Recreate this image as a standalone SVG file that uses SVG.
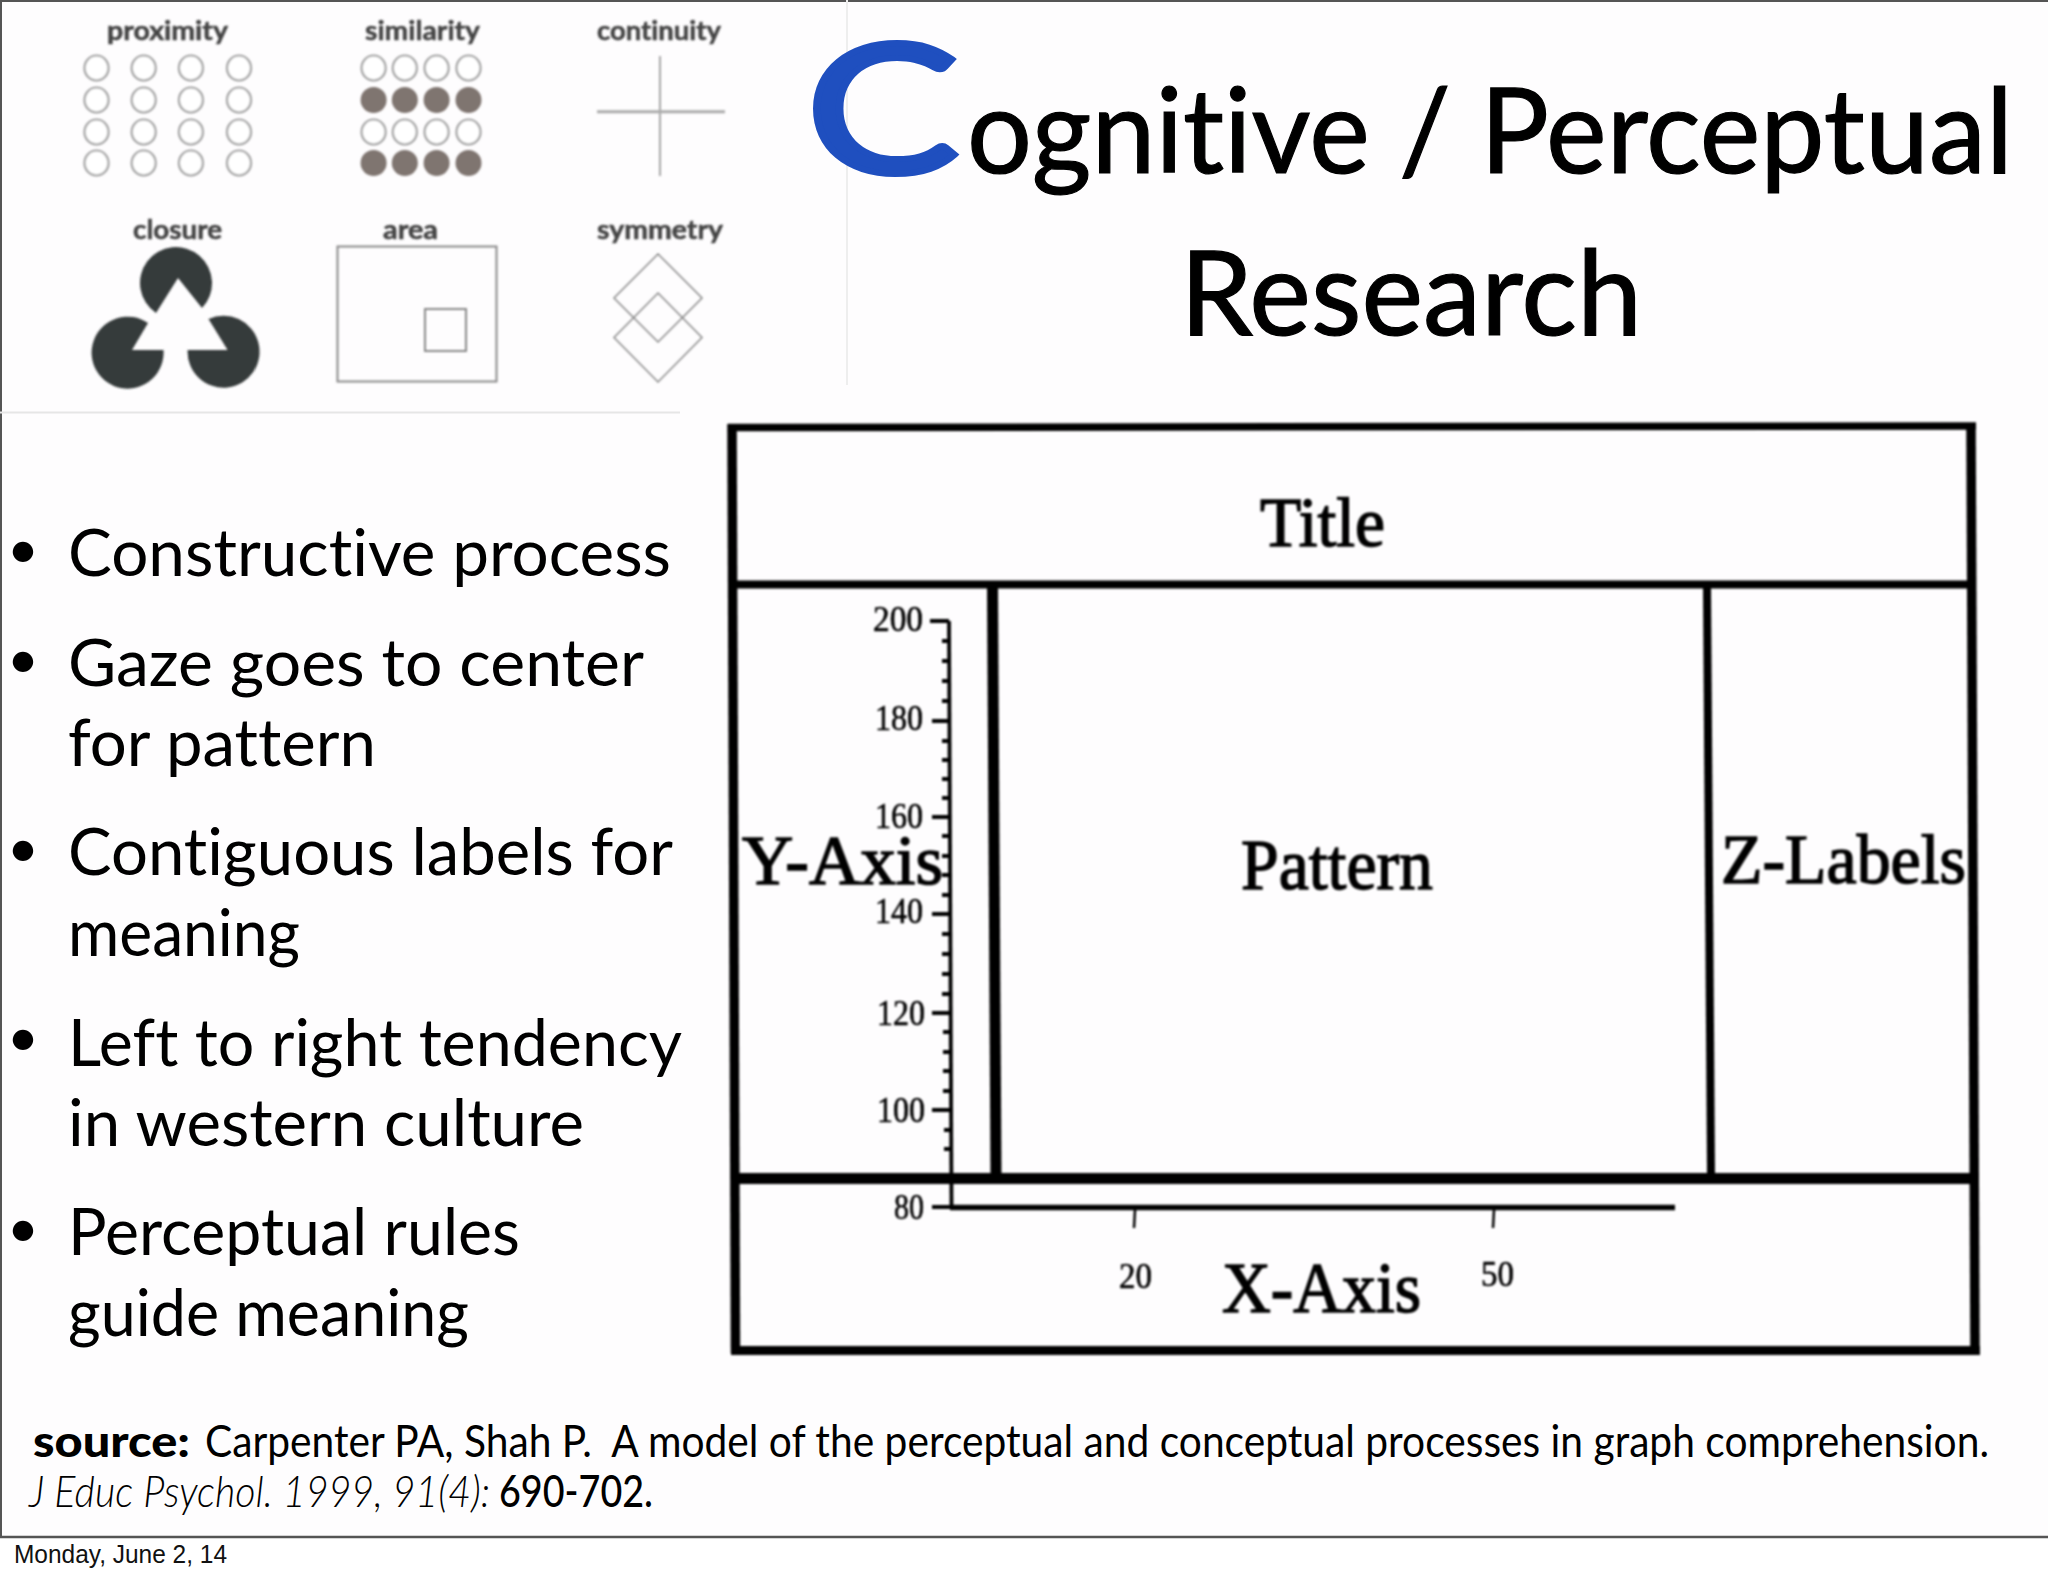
<svg xmlns="http://www.w3.org/2000/svg" width="2048" height="1576" viewBox="0 0 2048 1576">
<style>
text{font-variant-ligatures:none;white-space:pre}
.t{font-family:"Lato","Open Sans",sans-serif;fill:#000}
.b{font-size:66px}
.dot{font-size:55px}
.s{font-size:44px}
.h{stroke:#000;stroke-width:1.2}
.g{font-family:"Lato","Open Sans",sans-serif;font-weight:700;font-size:26px;fill:#444;stroke:#444;stroke-width:.5}
.o{fill:#fff;stroke:#a0a0a0;stroke-width:2.2}
.f{fill:#7f7570;stroke:none}
.l{fill:none;stroke:#888;stroke-width:2}
.d{fill:#353a3a}
.c{font-family:"Liberation Serif","Times New Roman",serif;fill:#000;stroke:#000;stroke-width:1.5}
.n{font-size:35px;stroke-width:.6}
.r{fill:none;stroke:#000}
</style>
<defs>
<filter id="soft" x="-2%" y="-2%" width="104%" height="104%"><feGaussianBlur stdDeviation="0.8"/></filter>
</defs>
<rect width="2048" height="1576" fill="#fff"/>
<rect width="2048" height="1537" fill="#fefdfe"/>
<g id="frame" fill="none" stroke="#555">
<path d="M1,0V1537" stroke-width="2"/>
<path d="M0,1H2048" stroke-width="2"/>
<path d="M0,1537H2048" stroke-width="2.500"/>
<path d="M847,0V385" stroke="#eeeeee" stroke-width="2"/>
<path d="M0,412.500H680" stroke="#e6e6e6" stroke-width="2"/>
</g>
<g id="gestalt" filter="url(#soft)">
<g id="proximity">
<text class="g" x="107" y="40" textLength="121" lengthAdjust="spacingAndGlyphs">proximity</text>
<ellipse class="o" cx="96.500" cy="68" rx="12" ry="12.500"/><ellipse class="o" cx="143.700" cy="68" rx="12" ry="12.500"/><ellipse class="o" cx="190.900" cy="68" rx="12" ry="12.500"/><ellipse class="o" cx="239" cy="68" rx="12" ry="12.500"/>
<ellipse class="o" cx="96.500" cy="100" rx="12" ry="12.500"/><ellipse class="o" cx="143.700" cy="100" rx="12" ry="12.500"/><ellipse class="o" cx="190.900" cy="100" rx="12" ry="12.500"/><ellipse class="o" cx="239" cy="100" rx="12" ry="12.500"/>
<ellipse class="o" cx="96.500" cy="132" rx="12" ry="12.500"/><ellipse class="o" cx="143.700" cy="132" rx="12" ry="12.500"/><ellipse class="o" cx="190.900" cy="132" rx="12" ry="12.500"/><ellipse class="o" cx="239" cy="132" rx="12" ry="12.500"/>
<ellipse class="o" cx="96.500" cy="163" rx="12" ry="12.500"/><ellipse class="o" cx="143.700" cy="163" rx="12" ry="12.500"/><ellipse class="o" cx="190.900" cy="163" rx="12" ry="12.500"/><ellipse class="o" cx="239" cy="163" rx="12" ry="12.500"/>
</g>
<g id="similarity">
<text class="g" x="365" y="40" textLength="115" lengthAdjust="spacingAndGlyphs">similarity</text>
<ellipse class="o" cx="373.600" cy="68" rx="12" ry="12.500"/><ellipse class="o" cx="404.800" cy="68" rx="12" ry="12.500"/><ellipse class="o" cx="436.600" cy="68" rx="12" ry="12.500"/><ellipse class="o" cx="468.500" cy="68" rx="12" ry="12.500"/>
<ellipse class="f" cx="373.600" cy="100" rx="13" ry="13"/><ellipse class="f" cx="404.800" cy="100" rx="13" ry="13"/><ellipse class="f" cx="436.600" cy="100" rx="13" ry="13"/><ellipse class="f" cx="468.500" cy="100" rx="13" ry="13"/>
<ellipse class="o" cx="373.600" cy="132" rx="12" ry="12.500"/><ellipse class="o" cx="404.800" cy="132" rx="12" ry="12.500"/><ellipse class="o" cx="436.600" cy="132" rx="12" ry="12.500"/><ellipse class="o" cx="468.500" cy="132" rx="12" ry="12.500"/>
<ellipse class="f" cx="373.600" cy="163" rx="13" ry="13"/><ellipse class="f" cx="404.800" cy="163" rx="13" ry="13"/><ellipse class="f" cx="436.600" cy="163" rx="13" ry="13"/><ellipse class="f" cx="468.500" cy="163" rx="13" ry="13"/>
</g>
<g id="continuity">
<text class="g" x="597" y="40" textLength="124" lengthAdjust="spacingAndGlyphs">continuity</text>
<path d="M660,56V176" class="l" style="stroke-width:1.500"/>
<path d="M597,111.700H725" fill="none" stroke="#aaa" stroke-width="3"/>
</g>
<g id="closure">
<text class="g" x="133" y="239" textLength="89" lengthAdjust="spacingAndGlyphs">closure</text>
<path class="d" d="M156,313A36,36 0 1 1 202,308L178,278Z"/>
<path class="d" d="M148,323A36,36 0 1 0 163.500,350L132,350Z"/>
<path class="d" d="M208.500,319A36,36 0 1 1 187.600,350L227.600,350Z"/>
</g>
<g id="area">
<text class="g" x="383" y="239" textLength="55" lengthAdjust="spacingAndGlyphs">area</text>
<rect class="l" x="337.500" y="246.500" width="159" height="135"/>
<rect class="l" x="425" y="309" width="41" height="42"/>
</g>
<g id="symmetry">
<text class="g" x="597" y="239" textLength="126" lengthAdjust="spacingAndGlyphs">symmetry</text>
<path class="l" d="M658,254L702,298L658,342L614,298Z" style="stroke-width:1.500"/>
<path class="l" d="M658,293L702,337.500L658,382L614,337.500Z" style="stroke-width:1.500"/>
</g>
</g>
<g id="title">
<text x="806" y="173" font-size="178" font-family="Lato, Open Sans, sans-serif" fill="#1f4fbf" stroke="#1f4fbf" stroke-width="6" textLength="153" lengthAdjust="spacingAndGlyphs">C</text>
<text class="t h" x="967" y="173" font-size="118" textLength="1046" lengthAdjust="spacingAndGlyphs">ognitive / Perceptual</text>
<text class="t h" x="1180" y="335" font-size="118" textLength="462" lengthAdjust="spacingAndGlyphs">Research</text>
</g>
<g id="bullets">
<text class="t dot" x="7" y="568">•</text>
<text class="t dot" x="7" y="678">•</text>
<text class="t dot" x="7" y="867">•</text>
<text class="t dot" x="7" y="1056">•</text>
<text class="t dot" x="7" y="1247">•</text>
<text class="t b" x="68" y="576" textLength="603" lengthAdjust="spacingAndGlyphs">Constructive process</text>
<text class="t b" x="68" y="686" textLength="576" lengthAdjust="spacingAndGlyphs">Gaze goes to center</text>
<text class="t b" x="68" y="766" textLength="308" lengthAdjust="spacingAndGlyphs">for pattern</text>
<text class="t b" x="68" y="875" textLength="605" lengthAdjust="spacingAndGlyphs">Contiguous labels for</text>
<text class="t b" x="68" y="956" textLength="232" lengthAdjust="spacingAndGlyphs">meaning</text>
<text class="t b" x="68" y="1066" textLength="614" lengthAdjust="spacingAndGlyphs">Left to right tendency</text>
<text class="t b" x="68" y="1146" textLength="516" lengthAdjust="spacingAndGlyphs">in western culture</text>
<text class="t b" x="68" y="1255" textLength="452" lengthAdjust="spacingAndGlyphs">Perceptual rules</text>
<text class="t b" x="68" y="1336" textLength="401" lengthAdjust="spacingAndGlyphs">guide meaning</text>
</g>
<g id="chart" filter="url(#soft)">
<g id="chart-frame" class="r">
<path d="M732,424L735.500,1353" stroke-width="9.500"/>
<path d="M1971,424L1975,1353" stroke-width="9.500"/>
<path d="M728,427.500L1976,426" stroke-width="7.500"/>
<path d="M732,584.500H1973" stroke-width="8"/>
<path d="M736,1178.500H1975" stroke-width="11"/>
<path d="M731,1350.500H1980" stroke-width="9"/>
<path d="M992.500,585L996,1175" stroke-width="11"/>
<path d="M1707,585L1711,1175" stroke-width="8"/>
</g>
<g id="y-axis" class="r">
<path d="M949,621L951.500,1208" stroke-width="3.800"/>
<path d="M930,621H949M932,721H950M932,817H950M932,914H950M932,1013H951M932,1110H951M932,1207H952" stroke-width="3.800"/>
<path d="M942,641H949M942,661H949M942,681H949M942,701H949M942,741H950M942,760H950M942,779H950M942,798H950M942,836H950M942,856H950M942,875H950M942,895H950M942,934H950M942,954H950M942,974H950M942,994H950M943,1032H951M943,1052H951M943,1071H951M943,1091H951M944,1130H951M944,1149H951" stroke-width="3.800"/>
</g>
<g id="x-axis" class="r">
<path d="M950,1207.500H1675" stroke-width="5.500"/>
<path d="M1135,1210L1134,1228M1494,1210L1493,1228" stroke-width="2.500"/>
</g>
<g id="chart-labels">
<text class="c" x="1260" y="546" font-size="70" textLength="125" lengthAdjust="spacingAndGlyphs">Title</text>
<text class="c" x="1241" y="889" font-size="72" textLength="192" lengthAdjust="spacingAndGlyphs">Pattern</text>
<text class="c" x="742" y="884" font-size="69" textLength="201" lengthAdjust="spacingAndGlyphs">Y-Axis</text>
<text class="c" x="1721" y="883" font-size="69" textLength="245" lengthAdjust="spacingAndGlyphs">Z-Labels</text>
<text class="c" x="1222" y="1312" font-size="72" textLength="199" lengthAdjust="spacingAndGlyphs">X-Axis</text>
<text class="c n" x="873" y="631" textLength="50" lengthAdjust="spacingAndGlyphs">200</text>
<text class="c n" x="875" y="730" textLength="48" lengthAdjust="spacingAndGlyphs">180</text>
<text class="c n" x="875" y="828" textLength="48" lengthAdjust="spacingAndGlyphs">160</text>
<text class="c n" x="875" y="923" textLength="48" lengthAdjust="spacingAndGlyphs">140</text>
<text class="c n" x="877" y="1025" textLength="48" lengthAdjust="spacingAndGlyphs">120</text>
<text class="c n" x="877" y="1122" textLength="48" lengthAdjust="spacingAndGlyphs">100</text>
<text class="c n" x="894" y="1219" textLength="30" lengthAdjust="spacingAndGlyphs">80</text>
<text class="c n" x="1119" y="1288" textLength="33" lengthAdjust="spacingAndGlyphs">20</text>
<text class="c n" x="1481" y="1286" textLength="33" lengthAdjust="spacingAndGlyphs">50</text>
</g>
</g>
<g id="source">
<text class="t s" x="33" y="1457" font-weight="900" textLength="157" lengthAdjust="spacingAndGlyphs">source:</text>
<text class="t s" x="205" y="1457" textLength="1784" lengthAdjust="spacingAndGlyphs">Carpenter PA, Shah P.  A model of the perceptual and conceptual processes in graph comprehension.</text>
<text class="t s" x="29" y="1507" font-style="italic" font-weight="300" textLength="461" lengthAdjust="spacingAndGlyphs">J Educ Psychol. 1999, 91(4):</text>
<text class="t s" x="499" y="1507" font-weight="500" textLength="154" lengthAdjust="spacingAndGlyphs">690-702.</text>
</g>
<g id="footer">
<text x="14" y="1563" font-family="Liberation Sans, Arial, sans-serif" font-size="25" fill="#111" textLength="213" lengthAdjust="spacingAndGlyphs">Monday, June 2, 14</text>
</g>
</svg>
